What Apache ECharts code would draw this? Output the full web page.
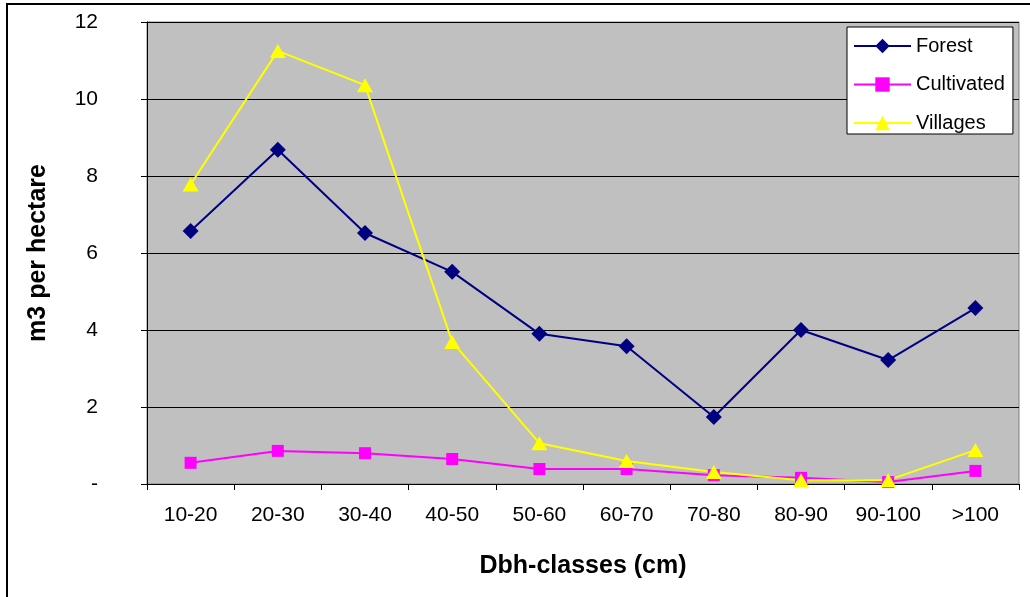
<!DOCTYPE html>
<html>
<head>
<meta charset="utf-8">
<script src="https://cdn.jsdelivr.net/npm/echarts@6/dist/echarts.min.js"></script>
<style>
html,body{margin:0;padding:0;background:#fff;}
#chart{width:1030px;height:597px;}
</style>
</head>
<body>
<div id="chart"></div>
<script>
var categories = ['10-20','20-30','30-40','40-50','50-60','60-70','70-80','80-90','90-100','>100'];
var forest = [6.57, 8.68, 6.52, 5.51, 3.90, 3.58, 1.74, 4.00, 3.22, 4.57];
var cultivated = [0.55, 0.86, 0.80, 0.65, 0.39, 0.39, 0.23, 0.16, 0.05, 0.34];
var villages = [7.78, 11.25, 10.36, 3.69, 1.06, 0.60, 0.31, 0.10, 0.10, 0.88];
var yTicks = {min: 0, max: 12, interval: 2};

var chart = echarts.init(document.getElementById('chart'));
var font = 'Liberation Sans, Arial, sans-serif';
chart.setOption({
  animation: false,
  textStyle: {fontFamily: font},
  graphic: [{
    type: 'rect',
    shape: {x: 7, y: 4, width: 1030, height: 600},
    style: {fill: 'none', stroke: '#000', lineWidth: 2},
    z: 100
  }],
  grid: {
    left: 147, top: 22, right: 11, bottom: 113,
    show: true, backgroundColor: '#C0C0C0', borderColor: '#808080', borderWidth: 1
  },
  legend: {
    orient: 'vertical',
    left: 847, top: 27,
    padding: [9, 8, 1, 6],
    backgroundColor: '#fff',
    borderColor: '#000', borderWidth: 1,
    itemWidth: 57, itemHeight: 18, itemGap: 18.5,
    textStyle: {fontFamily: font, fontSize: 20, color: '#000'},
    data: ['Forest', 'Cultivated', 'Villages']
  },
  xAxis: {
    type: 'category',
    data: categories,
    boundaryGap: true,
    name: 'Dbh-classes (cm)',
    nameLocation: 'middle',
    nameGap: 70,
    nameTextStyle: {fontFamily: font, fontSize: 25, fontWeight: 'bold', color: '#000'},
    axisLine: {lineStyle: {color: '#000', width: 1}},
    axisTick: {show: true, length: 6, lineStyle: {color: '#000'}},
    axisLabel: {fontFamily: font, fontSize: 21, color: '#000', margin: 21},
    splitLine: {show: false}
  },
  yAxis: {
    type: 'value',
    min: yTicks.min, max: yTicks.max, interval: yTicks.interval,
    name: 'm3 per hectare',
    nameLocation: 'middle',
    nameGap: 96,
    nameTextStyle: {fontFamily: font, fontSize: 25, fontWeight: 'bold', color: '#000'},
    axisLine: {show: true, lineStyle: {color: '#000', width: 1}},
    axisTick: {show: true, length: 6, lineStyle: {color: '#000'}},
    axisLabel: {
      fontFamily: font, fontSize: 21, color: '#000', margin: 49,
      formatter: function (v) { return v === 0 ? '-' : String(v); }
    },
    splitLine: {show: true, lineStyle: {color: '#000', width: 1}}
  },
  series: [
    {
      name: 'Forest', type: 'line', data: forest,
      symbol: 'diamond', symbolSize: 16,
      lineStyle: {color: '#000080', width: 2},
      itemStyle: {color: '#000080'}
    },
    {
      name: 'Cultivated', type: 'line', data: cultivated,
      symbol: 'rect', symbolSize: 12,
      lineStyle: {color: '#FF00FF', width: 2},
      itemStyle: {color: '#FF00FF'}
    },
    {
      name: 'Villages', type: 'line', data: villages,
      symbol: 'triangle', symbolSize: [16, 14],
      lineStyle: {color: '#FFFF00', width: 2},
      itemStyle: {color: '#FFFF00'}
    }
  ]
});
</script>
</body>
</html>
